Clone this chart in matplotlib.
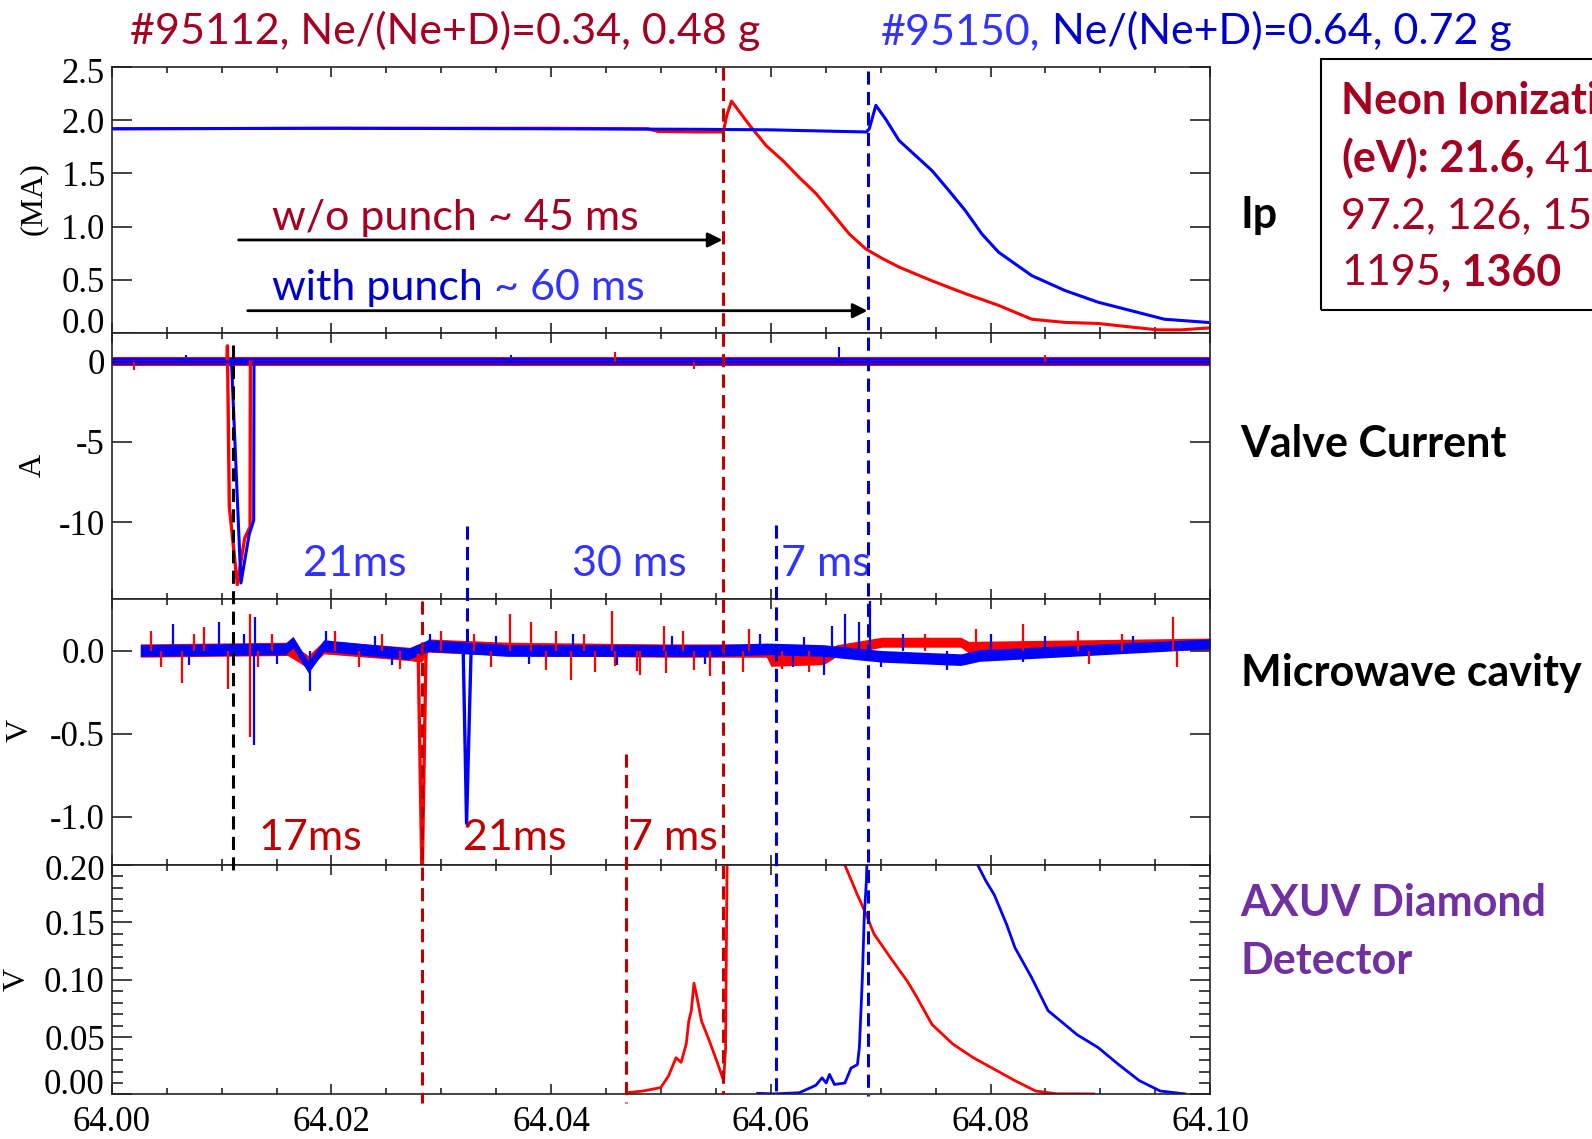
import matplotlib
matplotlib.use("Agg")
import matplotlib.pyplot as plt
import matplotlib.transforms as mtransforms
from matplotlib.lines import Line2D
from matplotlib.patches import Rectangle
from matplotlib.ticker import MultipleLocator, FormatStrFormatter

plt.rcParams['font.family'] = ['Liberation Serif', 'DejaVu Serif']
plt.rcParams['axes.unicode_minus'] = False

SANS = ['Lato', 'DejaVu Sans']
RED, BLUE = '#ff0000', '#0000ff'
DKRED, LBLUE, DKBLUE = '#a50021', '#3333ff', '#0000cc'
EVRED = '#c00000'
PURPLE = '#7030a0'

# ---- plasma current, MA ----
ip_red_t = [64.000, 64.020, 64.040, 64.0488, 64.0497, 64.0530, 64.05567, 64.0560, 64.05642,
            64.05809, 64.05959, 64.0611, 64.06261, 64.06412, 64.06564, 64.06715, 64.06865,
            64.07016, 64.07167, 64.07469, 64.07771, 64.08073, 64.08375, 64.08677, 64.08979,
            64.09281, 64.09522, 64.09733, 64.09975]
ip_red = [1.92, 1.925, 1.925, 1.92, 1.895, 1.89, 1.89, 2.05, 2.18,
          1.95, 1.76, 1.62, 1.46, 1.31, 1.12, 0.93, 0.79,
          0.70, 0.62, 0.49, 0.37, 0.26, 0.13, 0.10, 0.09,
          0.056, 0.03, 0.03, 0.047]
ip_blue_t = [64.000, 64.020, 64.040, 64.0536, 64.0600, 64.0687, 64.06896, 64.06956, 64.07046,
             64.07167, 64.07469, 64.0762, 64.07771, 64.07922, 64.08073, 64.08375, 64.08677,
             64.08979, 64.09281, 64.09582, 64.09975]
ip_blue = [1.92, 1.925, 1.92, 1.915, 1.91, 1.89, 1.92, 2.14, 2.01,
           1.81, 1.525, 1.34, 1.15, 0.93, 0.76, 0.54, 0.40,
           0.29, 0.21, 0.13, 0.10]

# ---- valve current, A ----
valve_red_t = [64.000, 64.0105, 64.01053, 64.0107, 64.01143, 64.0121, 64.01259, 64.01262, 64.100]
valve_red = [0.0, 0.0, 1.0, -9.0, -13.9, -11.0, -10.3, 0.0, 0.0]
valve_blue_t = [64.000, 64.0109, 64.01176, 64.0125, 64.01292, 64.01295, 64.100]
valve_blue = [0.0, 0.0, -13.8, -10.8, -9.9, 0.0, 0.0]
valve_noise = 0.28
valve_spk_t = [64.0020, 64.0068, 64.0363, 64.0458, 64.0530, 64.0662, 64.0850]
valve_spk = [-0.5, 0.45, 0.45, 0.6, -0.45, 0.9, 0.4]
valve_spk_c = [RED, BLUE, BLUE, RED, RED, BLUE, RED]

# ---- microwave cavity, V: baseline band (centre, half width) and spikes ----
mw_red_t = [64.0026, 64.0160, 64.0170, 64.0179, 64.0193, 64.0270, 64.0282, 64.0288, 64.0360,
            64.0500, 64.0596, 64.0600, 64.0648, 64.0660, 64.0701, 64.0773, 64.0780, 64.1000]
mw_red_c = [0.0, 0.01, -0.03, -0.07, 0.02, -0.02, -0.03, 0.03, 0.01,
            0.0, 0.0, -0.06, -0.05, 0.0, 0.05, 0.05, 0.02, 0.04]
mw_red_w = [0.04, 0.04, 0.04, 0.04, 0.04, 0.04, 0.04, 0.04, 0.04,
            0.04, 0.04, 0.035, 0.035, 0.035, 0.03, 0.03, 0.035, 0.035]
mw_blue_t = [64.0026, 64.0158, 64.0165, 64.0179, 64.0193, 64.0270, 64.0288, 64.0360, 64.0550,
             64.0596, 64.0648, 64.0701, 64.0773, 64.0790, 64.1000]
mw_blue_c = [0.0, 0.01, 0.05, -0.10, 0.03, -0.02, 0.03, 0.0, 0.0,
             0.01, 0.0, -0.035, -0.055, -0.03, 0.04]
mw_blue_w = [0.035, 0.035, 0.035, 0.035, 0.035, 0.035, 0.035, 0.035, 0.035,
             0.035, 0.035, 0.035, 0.035, 0.035, 0.03]
mw_red_spk_t = [64.0036, 64.0045, 64.00641, 64.0075, 64.00841, 64.0106, 64.0126, 64.0126,
                64.0133, 64.0146, 64.0203, 64.0225, 64.0246, 64.0262, 64.0300, 64.0330,
                64.0345, 64.03628, 64.03813, 64.0395, 64.0404, 64.04185, 64.0430, 64.0440,
                64.04556, 64.04577, 64.04785, 64.04812, 64.0503, 64.0505, 64.0520, 64.0530,
                64.05447, 64.0575, 64.0580, 64.0610, 64.0635, 64.0740, 64.07864, 64.08298,
                64.0880, 64.0890, 64.0920, 64.09657, 64.0970]
mw_red_spk = [0.12, -0.10, -0.195, 0.10, 0.14, -0.23, -0.52, 0.22,
              -0.10, 0.10, 0.12, -0.10, 0.10, -0.11, 0.12, 0.10,
              -0.10, 0.22, 0.17, -0.12, 0.12, -0.175, 0.10, -0.13,
              0.24, -0.095, -0.125, -0.145, 0.15, -0.135, 0.12, -0.12,
              -0.155, -0.13, 0.13, -0.11, -0.13, 0.10, 0.127, 0.157,
              0.12, -0.08, 0.10, 0.20, -0.10]
mw_blue_spk_t = [64.00553, 64.0070, 64.0098, 64.0120, 64.01292, 64.0130, 64.0150, 64.01807,
                 64.0195, 64.0240, 64.0255, 64.0290, 64.0350, 64.0380, 64.0420, 64.0460,
                 64.0510, 64.0540, 64.0590, 64.0620, 64.0630, 64.06485, 64.06561, 64.06674,
                 64.0700, 64.0720, 64.0760, 64.06806, 64.0690, 64.0800, 64.0830, 64.0850,
                 64.0930]
mw_blue_spk = [0.16, -0.09, 0.17, 0.10, -0.57, 0.20, -0.08, -0.245,
               0.12, 0.09, -0.09, 0.10, 0.09, -0.08, 0.10, -0.09,
               0.09, -0.08, 0.10, -0.10, 0.08, -0.145, 0.15, 0.22,
               -0.10, 0.10, -0.12, 0.17, 0.30, 0.10, -0.07, 0.09,
               0.09]
mw_red_drop_t = [64.0279, 64.02825, 64.0286]
mw_red_drop = [-0.03, -1.40, -0.03]
mw_blue_drop_t = [64.0320, 64.0323, 64.0327]
mw_blue_drop = [-0.02, -1.04, -0.03]

# ---- AXUV diamond detector, V ----
axuv_red_t = [64.04686, 64.04836, 64.04998, 64.05068, 64.05137, 64.05183, 64.0523, 64.05253,
              64.05276, 64.053, 64.05323, 64.05369, 64.05439, 64.05508, 64.0557, 64.05588,
              64.05601, 64.05616, 64.0665, 64.06674, 64.06788, 64.06863, 64.06938, 64.0709,
              64.0724, 64.07316, 64.07467, 64.07656, 64.07844, 64.08034, 64.08223, 64.08411,
              64.086, 64.0894]
axuv_red = [0.0015, 0.003, 0.006, 0.016, 0.032, 0.028, 0.044, 0.064,
            0.073, 0.097, 0.087, 0.064, 0.047, 0.029, 0.012, 0.04,
            0.195, 0.26, 0.24, 0.20, 0.174, 0.158, 0.14, 0.119,
            0.099, 0.087, 0.061, 0.044, 0.032, 0.022, 0.012, 0.003,
            0.0006, 0.0005]
axuv_blue_t = [64.0588, 64.06032, 64.06259, 64.0641, 64.06466, 64.06504, 64.06534, 64.06579,
               64.06674, 64.0673, 64.06788, 64.06806, 64.06832, 64.06851, 64.0687, 64.06885,
               64.0787, 64.07883, 64.07958, 64.08034, 64.08147, 64.08222, 64.08373, 64.08524,
               64.08638, 64.08789, 64.08978, 64.09167, 64.09355, 64.09545, 64.0977]
axuv_blue = [0.001, 0.0005, 0.0015, 0.008, 0.0145, 0.01, 0.0175, 0.0087,
             0.01, 0.023, 0.026, 0.041, 0.099, 0.157, 0.186, 0.24,
             0.23, 0.20, 0.186, 0.174, 0.148, 0.128, 0.102, 0.073,
             0.064, 0.052, 0.041, 0.026, 0.012, 0.003, 0.0005]

# event times (s) marked with dashed lines
t_valve = 64.0110
t_red_events = [64.0282, 64.0468, 64.0556]
t_blue_events = [64.0323, 64.0605, 64.0688]
blue_gap_labels = ['21ms', '30 ms', '7 ms']
red_gap_labels = ['17ms', '21ms', '7 ms']

fig = plt.figure(figsize=(15.92, 11.39), dpi=100)


def fx(x):
    return x / 1568.0


def fy(y):
    return 1.0 - y / 1122.0


left, width = 0.0702, 0.690
ax1 = fig.add_axes([left, 0.7076, width, 0.2335])
ax2 = fig.add_axes([left, 0.4741, width, 0.2335], sharex=ax1)
ax3 = fig.add_axes([left, 0.2406, width, 0.2335], sharex=ax1)
ax4 = fig.add_axes([left, 0.0391, width, 0.2015], sharex=ax1)
axes = [ax1, ax2, ax3, ax4]

# Ip
ax1.plot(ip_red_t, ip_red, color=RED, lw=2.2)
ax1.plot(ip_blue_t, ip_blue, color=BLUE, lw=2.2)
ax1.set_ylim(0, 2.5)
ax1.set_yticks([0.0, 0.5, 1.0, 1.5, 2.0, 2.5])
ax1.yaxis.set_major_formatter(FormatStrFormatter('%.1f'))

# valve current: thin noise band plus the pulse
ax2.fill_between([64.0, 64.1], -valve_noise, valve_noise, color=RED, lw=0)
ax2.plot(valve_red_t, valve_red, color=RED, lw=2.4)
ax2.fill_between([64.0, 64.1], -0.8 * valve_noise, 0.8 * valve_noise, color=BLUE, lw=0)
ax2.plot(valve_blue_t, valve_blue, color=BLUE, lw=2.2)
ax2.vlines(valve_spk_t, 0, valve_spk, colors=valve_spk_c, lw=1.5)
ax2.set_ylim(-14.8, 1.8)
ax2.set_yticks([-10, -5, 0])

# microwave cavity
lo = [c - w for c, w in zip(mw_red_c, mw_red_w)]
hi = [c + w for c, w in zip(mw_red_c, mw_red_w)]
ax3.fill_between(mw_red_t, lo, hi, color=RED, lw=0)
ax3.vlines(mw_red_spk_t, 0, mw_red_spk, colors=RED, lw=1.6)
ax3.plot(mw_red_drop_t, mw_red_drop, color=RED, lw=2.4)
lo = [c - w for c, w in zip(mw_blue_c, mw_blue_w)]
hi = [c + w for c, w in zip(mw_blue_c, mw_blue_w)]
ax3.fill_between(mw_blue_t, lo, hi, color=BLUE, lw=0)
ax3.vlines(mw_blue_spk_t, 0, mw_blue_spk, colors=BLUE, lw=1.6)
ax3.plot(mw_blue_drop_t, mw_blue_drop, color=BLUE, lw=2.4)
ax3.set_ylim(-1.29, 0.31)
ax3.set_yticks([-1.0, -0.5, 0.0])
ax3.yaxis.set_major_formatter(FormatStrFormatter('%.1f'))

# AXUV
ax4.plot(axuv_red_t, axuv_red, color=RED, lw=2.0)
ax4.plot(axuv_blue_t, axuv_blue, color=BLUE, lw=2.0)
ax4.set_ylim(0, 0.20)
ax4.set_yticks([0.0, 0.05, 0.10, 0.15, 0.20])
ax4.yaxis.set_major_formatter(FormatStrFormatter('%.2f'))
ax4.yaxis.set_minor_locator(MultipleLocator(0.01))
ax4.xaxis.set_minor_locator(MultipleLocator(0.005))

ax1.set_xlim(64.0, 64.1)
ax4.set_xticks([64.00, 64.02, 64.04, 64.06, 64.08, 64.10])
ax4.xaxis.set_major_formatter(FormatStrFormatter('%.2f'))

for ax in axes:
    for s in ax.spines.values():
        s.set_linewidth(1.2)
        s.set_color('#222222')
    ax.tick_params(which='both', direction='in', top=True, right=True,
                   labelsize=25, colors='#222222', labelcolor='black', width=1.2)
    ax.tick_params(axis='y', which='major', length=14.5, pad=5)
    ax.tick_params(axis='y', which='minor', length=8)
    ax.tick_params(axis='x', which='major', length=7, pad=8)
    ax.tick_params(axis='x', which='minor', length=4)
    if ax is not ax4:
        ax.tick_params(axis='x', labelbottom=False)

# end labels sit inside the frame
shift_down = mtransforms.ScaledTranslation(0, -7 / 100.0, fig.dpi_scale_trans)
for ax in (ax1, ax4):
    labs = ax.get_yticklabels()
    labs[0].set_va('baseline')
    labs[-1].set_va('center')
    labs[-1].set_transform(labs[-1].get_transform() + shift_down)

# y-axis units
fig.text(fx(33), fy(196), '(MA)', rotation=90, ha='center', va='center', fontsize=23)
fig.text(fx(33), fy(458), 'A', rotation=90, ha='center', va='center', fontsize=23)
fig.text(fx(20), fy(720), 'V', rotation=90, ha='center', va='center', fontsize=23)
fig.text(fx(17), fy(965), 'V', rotation=90, ha='center', va='center', fontsize=23)

# dashed event markers crossing the panels
xtrans = mtransforms.blended_transform_factory(ax1.transData, fig.transFigure)


def vdash(t, y0, y1, color):
    fig.add_artist(Line2D([t, t], [fy(y0), fy(y1)], transform=xtrans, color=color,
                          lw=2.2, ls=(0, (4.3, 2.4)), zorder=5))


vdash(t_valve, 340, 860, 'black')
vdash(t_red_events[0], 592, 1087, EVRED)
vdash(t_red_events[1], 743, 1087, EVRED)
vdash(t_red_events[2], 66, 1078, EVRED)
vdash(t_blue_events[0], 518, 635, DKBLUE)
vdash(t_blue_events[1], 517, 1080, DKBLUE)
vdash(t_blue_events[2], 70, 1080, DKBLUE)

# overlay for chained, multi-coloured text
ov = fig.add_axes([0, 0, 1, 1], zorder=10)
ov.axis('off')
ov.set_xlim(0, 1)
ov.set_ylim(0, 1)

FS = 31


def chain(x, y, pieces, size, transform=None):
    first = pieces[0]
    prev = ov.text(x, y, first[0], color=first[1], fontweight=first[2], fontsize=size,
                   family=SANS, ha='left', va='bottom',
                   transform=transform if transform is not None else ov.transAxes)
    for s, c, w in pieces[1:]:
        prev = ov.annotate(s, xy=(1, 0), xycoords=prev, color=c, fontweight=w, fontsize=size,
                           family=SANS, ha='left', va='bottom', annotation_clip=False)
    return prev


# shot titles
chain(fx(128), fy(50), [('#95112, Ne/(Ne+D)=0.34, 0.48 g', DKRED, 'normal')], FS)
chain(fx(868), fy(50), [('#95150,', LBLUE, 'normal'),
                        (' Ne/(Ne+D)=0.64, 0.72 g', DKBLUE, 'normal')], FS)

# disruption delay arrows in the Ip panel
ax1.annotate('', xy=(t_red_events[2], 0.875), xytext=(64.01155, 0.875),
             arrowprops=dict(arrowstyle='-|>', color='black', lw=2.0, mutation_scale=22,
                             shrinkA=0, shrinkB=0))
ax1.annotate('', xy=(t_blue_events[2], 0.21), xytext=(64.01238, 0.21),
             arrowprops=dict(arrowstyle='-|>', color='black', lw=2.0, mutation_scale=22,
                             shrinkA=0, shrinkB=0))
chain(64.0146, 0.90, [('w/o punch ~ 45 ms', DKRED, 'normal')], FS,
      transform=ax1.transData)
chain(64.0146, 0.245, [('with punch', DKBLUE, 'normal'), (' ~ 60 ms', LBLUE, 'normal')], FS,
      transform=ax1.transData)

# gap labels
blue_x = [64.0221, 64.0471, 64.0650]
for t, s in zip(blue_x, blue_gap_labels):
    ax2.text(t, -12.6, s, color=LBLUE, fontsize=FS, family=SANS, ha='center', va='center')
red_x = [64.0181, 64.0367, 64.0511]
for t, s in zip(red_x, red_gap_labels):
    ax3.text(t, -1.125, s, color=EVRED, fontsize=FS, family=SANS, ha='center', va='center')

# panel names on the right
for y, s in [(212, 'Ip'), (437, 'Valve Current'), (663, 'Microwave cavity')]:
    fig.text(fx(1222), fy(y), s, fontsize=31, fontweight='bold', family=SANS,
             ha='left', va='center', color='black')
fig.text(fx(1222), fy(890), 'AXUV Diamond', fontsize=31, fontweight='bold', family=SANS,
         ha='left', va='center', color=PURPLE)
fig.text(fx(1222), fy(947), 'Detector', fontsize=31, fontweight='bold', family=SANS,
         ha='left', va='center', color=PURPLE)

# ionization energy box
ov.add_patch(Rectangle((fx(1301), fy(305)), 0.3, fy(58) - fy(305), transform=ov.transAxes,
                       fill=False, edgecolor='black', lw=1.5, clip_on=False))
bx = fx(1321)
chain(bx, fy(119), [('Neon Ionization Energies', DKRED, 'bold')], FS)
chain(bx, fy(176), [('(eV):', DKRED, 'bold'), (' 21.6,', DKRED, 'bold'),
                    (' 41.0, 63.5,', DKRED, 'normal')], FS)
chain(bx, fy(232), [('97.2, 126, 158, 207, 239,', DKRED, 'normal')], FS)
chain(bx, fy(288), [('1195', DKRED, 'normal'), (', 1360', DKRED, 'bold')], FS)

fig.savefig('out.png', dpi=100)
